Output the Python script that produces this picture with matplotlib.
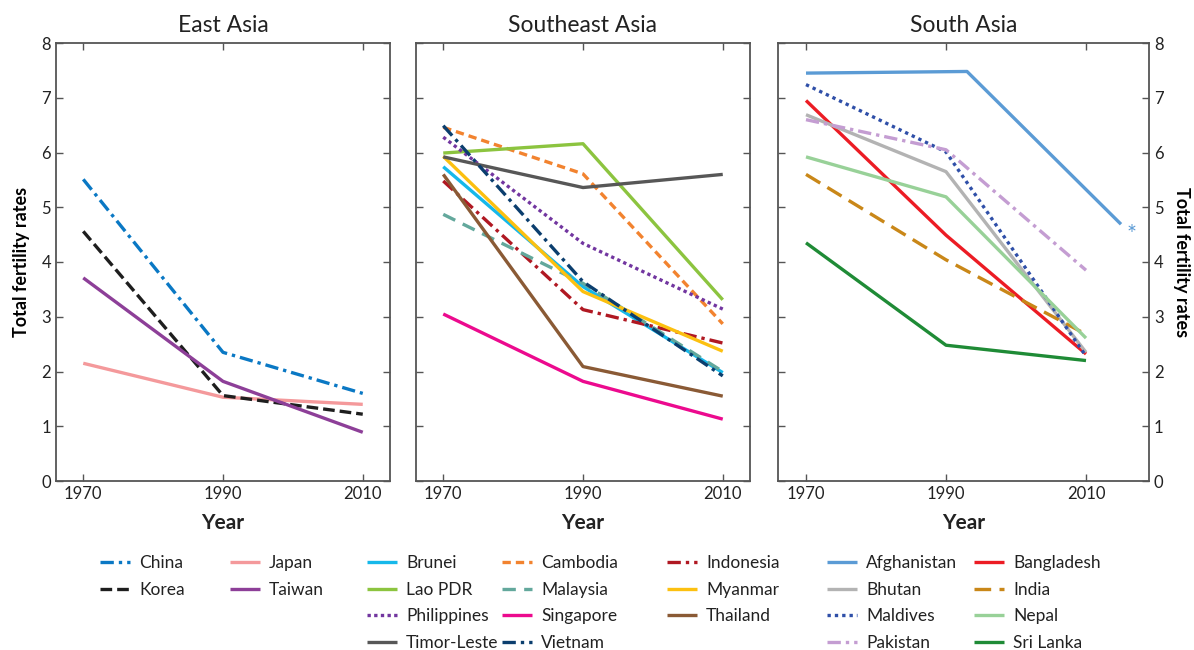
import numpy as np
import matplotlib
matplotlib.use("Agg")
import matplotlib.pyplot as plt

plt.rcParams['font.family'] = ['Lato', 'DejaVu Sans']

years = [1970, 1990, 2010]
afghan_years = [1970, 1993, 2015]

# East Asia
east_names = ["China", "Japan", "Korea", "Taiwan"]
china = [5.51, 2.35, 1.60]
japan = [2.15, 1.53, 1.40]
korea = [4.56, 1.56, 1.22]
taiwan = [3.71, 1.82, 0.89]

# Southeast Asia
se_names = ["Brunei", "Cambodia", "Indonesia", "Lao PDR", "Malaysia", "Myanmar",
            "Philippines", "Singapore", "Thailand", "Timor-Leste", "Vietnam"]
brunei = [5.74, 3.55, 1.98]
cambodia = [6.46, 5.61, 2.87]
indonesia = [5.48, 3.13, 2.52]
lao = [5.99, 6.16, 3.31]
malaysia = [4.87, 3.61, 2.00]
myanmar = [5.93, 3.46, 2.37]
philippines = [6.28, 4.34, 3.14]
singapore = [3.05, 1.82, 1.13]
thailand = [5.60, 2.09, 1.55]
timor = [5.92, 5.36, 5.60]
vietnam = [6.49, 3.64, 1.92]

# South Asia
south_names = ["Afghanistan", "Bangladesh", "Bhutan", "India", "Maldives",
               "Nepal", "Pakistan", "Sri Lanka"]
afghanistan = [7.45, 7.48, 4.69]
bangladesh = [6.95, 4.49, 2.32]
bhutan = [6.69, 5.65, 2.35]
india = [5.60, 4.04, 2.68]
maldives = [7.24, 6.01, 2.28]
nepal = [5.92, 5.19, 2.61]
pakistan = [6.60, 6.05, 3.85]
srilanka = [4.35, 2.48, 2.20]

dashdot = (0, (4, 1.5, 1, 1.5))
styles = {
  "China": ("#0a78c4", dashdot, china),
  "Japan": ("#f4999b", "-", japan),
  "Korea": ("#1e1e1e", (0, (3.5, 1.5)), korea),
  "Taiwan": ("#8d3f98", "-", taiwan),
  "Brunei": ("#16b8ea", "-", brunei),
  "Cambodia": ("#f2832f", (0, (2.5, 1.5)), cambodia),
  "Indonesia": ("#b01822", dashdot, indonesia),
  "Lao PDR": ("#8cc43f", "-", lao),
  "Malaysia": ("#63a89c", (0, (4, 2.5)), malaysia),
  "Myanmar": ("#fcc010", "-", myanmar),
  "Philippines": ("#7236a0", (0, (1, 1)), philippines),
  "Singapore": ("#ec0a8e", "-", singapore),
  "Thailand": ("#8a5a35", "-", thailand),
  "Timor-Leste": ("#575757", "-", timor),
  "Vietnam": ("#0b3e6e", dashdot, vietnam),
  "Afghanistan": ("#5b9bd5", "-", afghanistan),
  "Bangladesh": ("#ec1c24", "-", bangladesh),
  "Bhutan": ("#b3b3b3", "-", bhutan),
  "India": ("#c98718", (0, (5, 2.5)), india),
  "Maldives": ("#2f4fa8", (0, (1, 1.2)), maldives),
  "Nepal": ("#98d198", "-", nepal),
  "Pakistan": ("#c49dd2", dashdot, pakistan),
  "Sri Lanka": ("#1f8b36", "-", srilanka),
}

fig = plt.figure(figsize=(11.94, 6.5), dpi=100)
ax1 = fig.add_axes([56/1194, 169/650, 334/1194, 438/650])
ax2 = fig.add_axes([416/1194, 169/650, 334/1194, 438/650])
ax3 = fig.add_axes([778/1194, 169/650, 371/1194, 438/650])

handles = {}
def draw(ax, names):
  for name in names:
    color, ls, vals = styles[name]
    xs = afghan_years if name == "Afghanistan" else years
    line, = ax.plot(xs, vals, color=color, linestyle=ls, linewidth=2.4,
                    solid_capstyle="butt", label=name)
    handles[name] = line

draw(ax1, east_names)
draw(ax2, se_names)
draw(ax3, south_names)
ax3.text(2016.5, 4.5, "*", color="#5b9bd5", fontsize=17, ha="center", va="center")

for ax, title in zip([ax1, ax2, ax3], ["East Asia", "Southeast Asia", "South Asia"]):
  ax.set_ylim(0, 8)
  ax.set_xticks(years)
  ax.set_yticks(range(0, 9))
  ax.set_title(title, fontsize=16.5, pad=8, color="#222222")
  ax.set_xlabel("Year", fontsize=15, fontweight="bold", labelpad=8, color="#222222")
  ax.tick_params(direction="in", length=5, width=1, color="#555555",
                 top=True, right=True, labelsize=12, labelcolor="#222222")
  for sp in ax.spines.values():
    sp.set_color("#555555")
    sp.set_linewidth(1.3)

ax1.set_xlim(1966.1, 2013.9)
ax2.set_xlim(1966.1, 2013.9)
ax3.set_xlim(1966.0, 2019.0)

ax1.set_ylabel("Total fertility rates", fontsize=13, fontweight="bold", labelpad=8)
ax2.tick_params(labelleft=False)
ax3.tick_params(labelleft=False, labelright=True)
ax3.yaxis.set_label_position("right")
ax3.set_ylabel("Total fertility rates", fontsize=13, fontweight="bold",
               rotation=270, labelpad=19)

# legends, one per column, laid out row-wise
columns = [
  (100, ["China", "Korea"]),
  (230, ["Japan", "Taiwan"]),
  (367, ["Brunei", "Lao PDR", "Philippines", "Timor-Leste"]),
  (502, ["Cambodia", "Malaysia", "Singapore", "Vietnam"]),
  (667, ["Indonesia", "Myanmar", "Thailand"]),
  (827, ["Afghanistan", "Bhutan", "Maldives", "Pakistan"]),
  (974, ["Bangladesh", "India", "Nepal", "Sri Lanka"]),
]
for xpix, names in columns:
  fig.legend([handles[n] for n in names], names, loc="upper left",
             bbox_to_anchor=(xpix/1194, 1 - 555/650), frameon=False,
             borderpad=0, borderaxespad=0, handlelength=1.75,
             handletextpad=0.5, labelspacing=0.61, fontsize=12.5,
             labelcolor="#222222")

plt.savefig("out.png", dpi=100)
